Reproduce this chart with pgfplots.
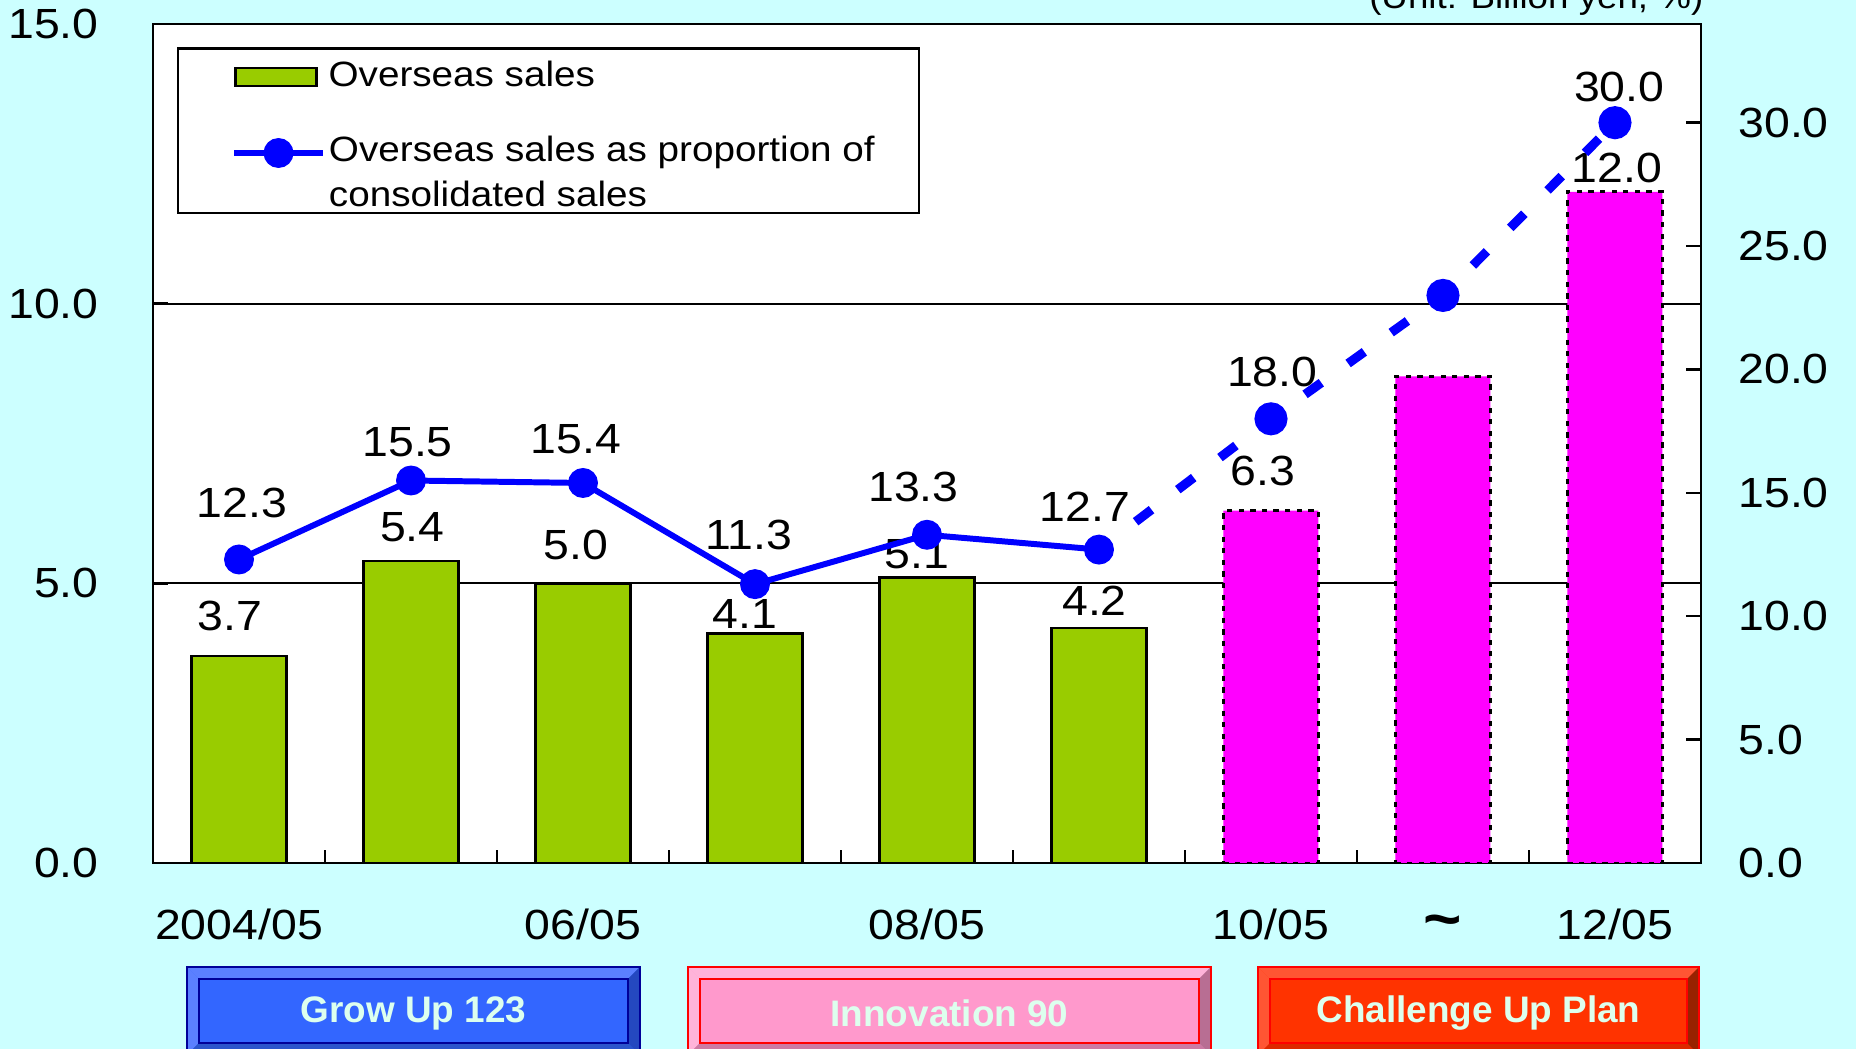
\documentclass[border=0pt]{standalone}
\usepackage{fontspec}
\setmainfont{Liberation Sans}[FakeStretch=1.1]
\newfontfamily\boxfont{Liberation Sans}
\usepackage{pgfplots}
\pgfplotsset{compat=1.18}
\definecolor{bgc}{HTML}{CCFFFF}
\definecolor{barg}{HTML}{99CC00}
\definecolor{barm}{HTML}{FF00FF}
\definecolor{lineb}{HTML}{0000FF}
\definecolor{boxtxt}{HTML}{DDFFEE}
\definecolor{gFace}{HTML}{3366FF}
\definecolor{gTop}{HTML}{5B80FF}
\definecolor{gBot}{HTML}{2B55CC}
\definecolor{gRight}{HTML}{2448C0}
\definecolor{gBorder}{HTML}{000099}
\definecolor{iFace}{HTML}{FF99CC}
\definecolor{iTop}{HTML}{FFB3D9}
\definecolor{iBot}{HTML}{CC7AA3}
\definecolor{iRight}{HTML}{B86E93}
\definecolor{cFace}{HTML}{FF3300}
\definecolor{cTop}{HTML}{FF5533}
\definecolor{cBot}{HTML}{DD2800}
\definecolor{cRight}{HTML}{992200}
\definecolor{rBorder}{HTML}{FF0000}
\newcommand{\bevelbox}[9]{% x1 x2 yB yT face top bottom right border
  \fill[#5] (#1,#3) rectangle (#2,#4);
  \fill[#6] (#1,#4) -- (#2,#4) -- ({#2-0.12},{#4-0.12}) -- ({#1+0.12},{#4-0.12}) -- cycle;
  \fill[#6] (#1,#4) -- ({#1+0.12},{#4-0.12}) -- ({#1+0.12},{#3+0.12}) -- (#1,#3) -- cycle;
  \fill[#7] (#1,#3) -- ({#1+0.12},{#3+0.12}) -- ({#2-0.12},{#3+0.12}) -- (#2,#3) -- cycle;
  \fill[#8] (#2,#4) -- ({#2-0.12},{#4-0.12}) -- ({#2-0.12},{#3+0.12}) -- (#2,#3) -- cycle;
  \draw[#9, line width=0.6pt] ({#1+0.12},{#3+0.12}) rectangle ({#2-0.12},{#4-0.12});
  \draw[#9, line width=0.8pt] (#1,#3) rectangle (#2,#4);
}
\pgfplotsset{
  mylinelegend/.style={legend image code/.code={\draw[mark repeat=2, mark phase=2, ##1] plot coordinates {(0cm,0cm) (0.445cm,0cm) (0.89cm,0cm)};}},
  mybarlegend/.style={legend image code/.code={\draw[fill=barg, draw=black, line width=0.75pt] (0cm,-0.09cm) rectangle (0.81cm,0.09cm);}},
}
\begin{document}
\begin{tikzpicture}
\useasboundingbox (0,0) rectangle (18.56,10.49);
\fill[bgc] (0,0) rectangle (18.56,10.49);

\begin{axis}[
  at={(1.53cm,1.86cm)}, anchor=south west,
  scale only axis, width=15.48cm, height=8.39cm,
  xmin=-0.5, xmax=8.5, ymin=0, ymax=15,
  axis background/.style={fill=white},
  axis line style={line width=0.8pt},
  xtick={0,1,2,3,4,5,6,7,8},
  xticklabels={2004/05,,06/05,,08/05,,10/05,{\fontsize{17}{17}\selectfont\bfseries\textasciitilde},12/05},
  minor xtick={0.5,1.5,2.5,3.5,4.5,5.5,6.5,7.5},
  major x tick style={draw=none},
  minor tick length=0.13cm,
  major tick length=0.15cm,
  tick align=inside,
  xtick pos=left,
  ytick={0,5,10,15},
  yticklabels={0.0,5.0,10.0,15.0},
  ytick pos=left,
  ymajorgrids, grid style={black, line width=0.6pt},
  tick style={black, line width=0.7pt},
  tick label style={font=\fontsize{12}{14}\selectfont},
  xticklabel style={text height=0.32cm, text depth=0.06cm, anchor=north, yshift=-0.32cm},
  yticklabel style={xshift=-0.42cm},
  clip=false,
  legend style={at={(axis description cs:0.0523,0.937)}, anchor=west, draw=none, fill=none,
    inner sep=0pt, outer sep=0pt, column sep=0.11cm,
    font=\fontsize{10}{12}\selectfont, nodes={inner sep=0pt}},
  legend cell align=left,
]
\addplot[ybar, bar width=0.95cm, bar shift=0pt, fill=barg, draw=black, line width=0.75pt, mybarlegend]
  coordinates {(0,3.7) (1,5.4) (2,5.0) (3,4.1) (4,5.1) (5,4.2)};
\addlegendentry{Overseas sales}
\addplot[ybar, bar width=0.95cm, bar shift=0pt, fill=barm, draw=black, line width=0.8pt,
  dash pattern=on 1.5pt off 1.8pt, forget plot]
  coordinates {(6,6.3) (7,8.7) (8,12.0)};
\addplot[draw=none, mark=none, forget plot, nodes near coords, point meta=explicit symbolic,
  every node near coord/.append style={anchor=center, font=\fontsize{12}{14}\selectfont, inner sep=0pt}]
  coordinates {(-0.052,4.42) [3.7] (1.008,6.01) [5.4] (1.958,5.69) [5.0] (2.943,4.46) [4.1]
               (3.942,5.52) [5.1] (4.974,4.68) [4.2] (5.952,7.00) [6.3] (8.011,12.42) [12.0]};
\end{axis}

\begin{axis}[
  at={(1.53cm,1.86cm)}, anchor=south west,
  scale only axis, width=15.48cm, height=8.39cm,
  xmin=-0.5, xmax=8.5, ymin=0, ymax=34,
  axis x line=none, axis y line*=right,
  axis line style={-, line width=0.8pt},
  ytick={0,5,10,15,20,25,30},
  yticklabels={0.0,5.0,10.0,15.0,20.0,25.0,30.0},
  tick align=inside, major tick length=0.15cm,
  tick style={black, line width=0.7pt},
  tick label style={font=\fontsize{12}{14}\selectfont},
  yticklabel style={xshift=0.25cm},
  clip=false,
  legend style={at={(axis description cs:0.0504,0.820)}, anchor=west, draw=none, fill=none,
    inner sep=0pt, outer sep=0pt, column sep=0.03cm, row sep=0.10cm,
    font=\fontsize{10}{12}\selectfont, nodes={inner sep=0pt, text height=0.26cm, text depth=0.08cm}},
  legend cell align=left,
]
\addplot[lineb, line width=2.6pt, dash pattern=on 0.2cm off 0.33cm, dash phase=0.07cm,
  mark=*, mark size=3.4pt, mark options={solid, fill=lineb, draw=lineb}, mark indices={2,3,4}, forget plot]
  coordinates {(5,12.7) (6,18.0) (7,23.0) (8,30.0)};
\addplot[lineb, line width=1.7pt, mark=*, mark size=3.4pt, mark options={solid, fill=lineb, draw=lineb}, mylinelegend]
  coordinates {(0,12.3) (1,15.5) (2,15.4) (3,11.3) (4,13.3) (5,12.7)};
\addlegendentry{Overseas sales as proportion of}
\addlegendimage{empty legend}
\addlegendentry{consolidated sales}
\addplot[draw=none, mark=none, forget plot, nodes near coords, point meta=explicit symbolic,
  every node near coord/.append style={anchor=center, font=\fontsize{12}{14}\selectfont, inner sep=0pt}]
  coordinates {(0.016,14.58) [12.3] (0.98,17.07) [15.5] (1.958,17.17) [15.4] (2.964,13.29) [11.3]
               (3.921,15.25) [13.3] (4.919,14.44) [12.7] (6.007,19.9) [18.0] (8.025,31.46) [30.0]};
\end{axis}

\draw[black, line width=0.7pt] (1.78,8.36) rectangle (9.19,10.005);
\node[anchor=base east, font=\fontsize{9.5}{11}\selectfont, inner sep=0pt] at (17.04,10.40) {(Unit: Billion yen, \%)};

\bevelbox{1.87}{6.40}{-0.06}{0.82}{gFace}{gTop}{gBot}{gRight}{gBorder}
\bevelbox{6.88}{12.11}{-0.06}{0.82}{iFace}{iTop}{iBot}{iRight}{rBorder}
\bevelbox{12.58}{16.99}{-0.06}{0.82}{cFace}{cTop}{cBot}{cRight}{rBorder}
\node[font=\boxfont\bfseries\fontsize{10.5}{12}\selectfont, text=boxtxt] at (4.135,0.36) {Grow Up 123};
\node[font=\boxfont\bfseries\fontsize{10.5}{12}\selectfont, text=boxtxt] at (9.495,0.36) {Innovation 90};
\node[font=\boxfont\bfseries\fontsize{10.5}{12}\selectfont, text=boxtxt] at (14.785,0.36) {Challenge Up Plan};
\end{tikzpicture}
\end{document}
